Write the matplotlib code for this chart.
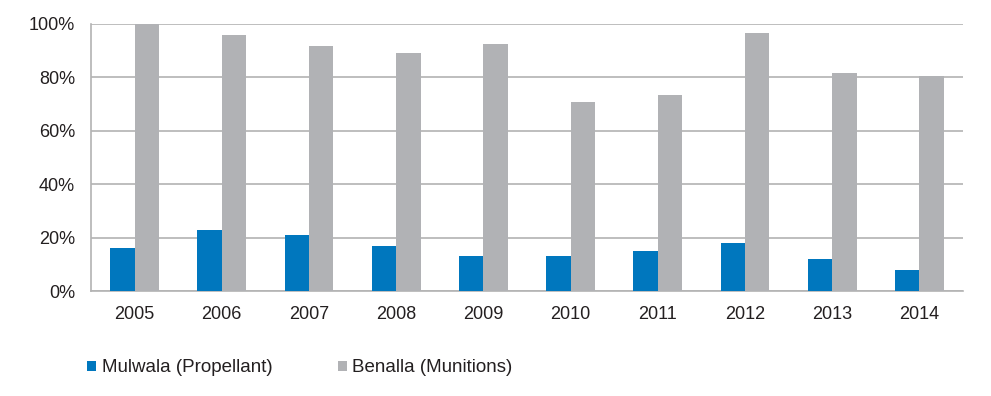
import numpy as np
import matplotlib.pyplot as plt
from matplotlib.ticker import PercentFormatter

# Datos
anios = ["2005", "2006", "2007", "2008", "2009", "2010", "2011", "2012", "2013", "2014"]
mulwala = [16, 23, 21, 17, 13, 13, 15, 18, 12, 8]
benalla = [100, 96, 91.8, 89.1, 92.5, 70.8, 73.5, 96.5, 81.5, 80.5]

azul = "#0077be"
gris = "#b1b2b5"
linea = "#b3b3b3"
texto = "#231f20"

plt.rcParams["font.family"] = ["Liberation Sans", "DejaVu Sans"]

fig = plt.figure(figsize=(9.91, 3.96), dpi=100)
ax = fig.add_axes([91 / 991, 1 - 291 / 396, 872 / 991, 267 / 396])

x = np.arange(len(anios))
w = 0.28
ax.bar(x - w / 2, mulwala, width=w, color=azul, label="Mulwala (Propellant)", zorder=3)
ax.bar(x + w / 2, benalla, width=w, color=gris, label="Benalla (Munitions)", zorder=3)

ax.set_xlim(-0.5, len(anios) - 0.5)
ax.set_ylim(0, 100)
ax.set_yticks(np.arange(0, 101, 20))
ax.yaxis.set_major_formatter(PercentFormatter(decimals=0))
ax.set_xticks(x)
ax.set_xticklabels(anios)
ax.tick_params(length=0, labelsize=13, colors=texto)
ax.tick_params(axis="x", pad=11)
ax.tick_params(axis="y", pad=11.5)

ax.grid(axis="y", color=linea, linewidth=1.2, zorder=0)
for s in ["top", "right"]:
    ax.spines[s].set_visible(False)
for s in ["left", "bottom"]:
    ax.spines[s].set_color(linea)
    ax.spines[s].set_linewidth(1.2)

fig.legend(loc="center left", bbox_to_anchor=(87 / 991, 1 - 368 / 396), ncol=2,
           frameon=False, fontsize=13.5, handlelength=0.48, handleheight=0.48,
           handletextpad=0.3, columnspacing=3.5, borderpad=0, borderaxespad=0,
           labelcolor=texto)

fig.savefig("out.png", dpi=100)
